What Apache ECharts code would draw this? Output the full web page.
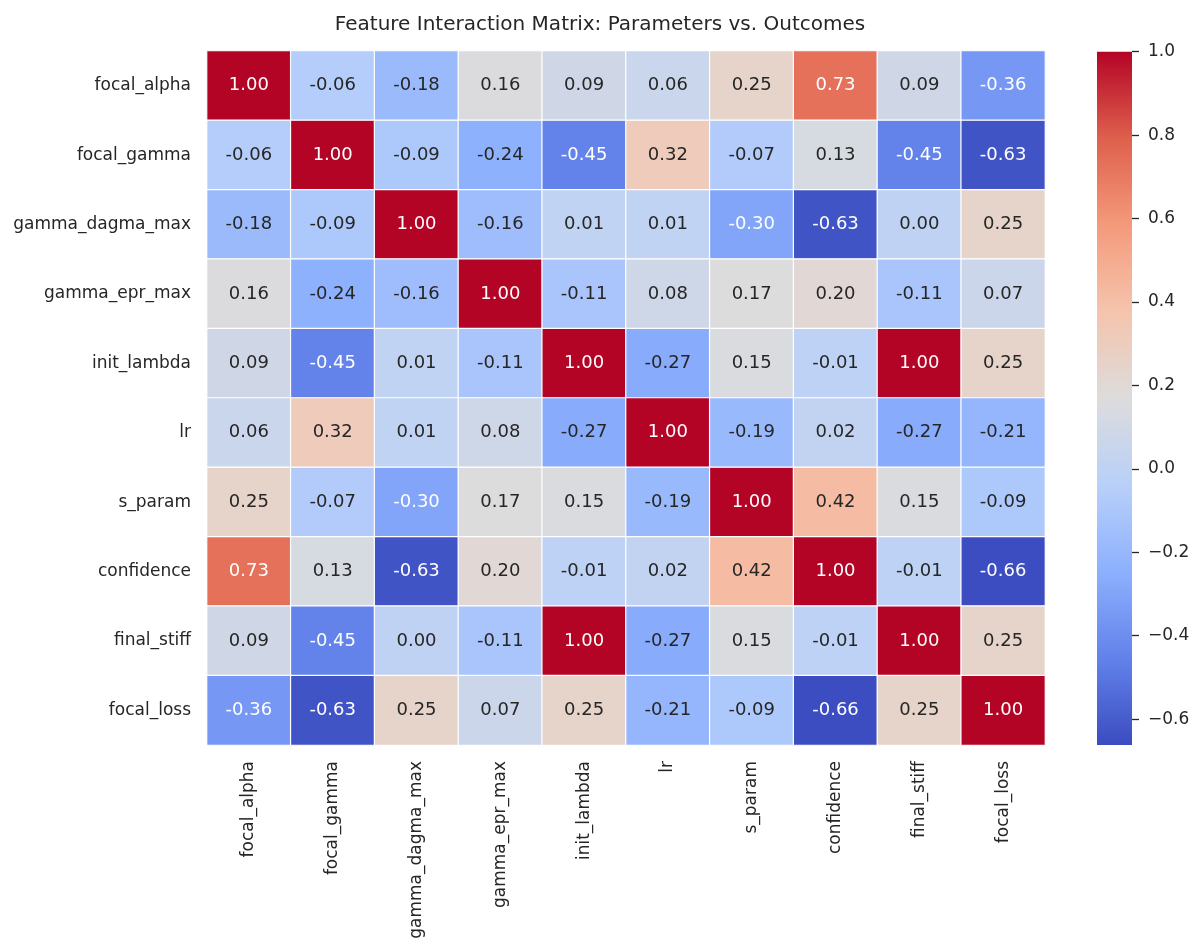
<!DOCTYPE html>
<html>
<head>
<meta charset="utf-8">
<script src="https://cdn.jsdelivr.net/npm/echarts@6/dist/echarts.min.js"></script>
<style>html,body{margin:0;padding:0;background:#fff;}#chart{width:1200px;height:952px;}</style>
</head>
<body>
<div id="chart"></div>
<script>
const features = ['focal_alpha','focal_gamma','gamma_dagma_max','gamma_epr_max','init_lambda','lr','s_param','confidence','final_stiff','focal_loss'];
const row_focal_alpha     = [1.00,-0.06,-0.18, 0.16, 0.09, 0.06, 0.25, 0.73, 0.09,-0.36];
const row_focal_gamma     = [-0.06,1.00,-0.09,-0.24,-0.45, 0.32,-0.07, 0.13,-0.45,-0.63];
const row_gamma_dagma_max = [-0.18,-0.09,1.00,-0.16, 0.01, 0.01,-0.30,-0.63, 0.00, 0.25];
const row_gamma_epr_max   = [0.16,-0.24,-0.16, 1.00,-0.11, 0.08, 0.17, 0.20,-0.11, 0.07];
const row_init_lambda     = [0.09,-0.45, 0.01,-0.11, 1.00,-0.27, 0.15,-0.01, 1.00, 0.25];
const row_lr              = [0.06, 0.32, 0.01, 0.08,-0.27, 1.00,-0.19, 0.02,-0.27,-0.21];
const row_s_param         = [0.25,-0.07,-0.30, 0.17, 0.15,-0.19, 1.00, 0.42, 0.15,-0.09];
const row_confidence      = [0.73, 0.13,-0.63, 0.20,-0.01, 0.02, 0.42, 1.00,-0.01,-0.66];
const row_final_stiff     = [0.09,-0.45, 0.00,-0.11, 1.00,-0.27, 0.15,-0.01, 1.00, 0.25];
const row_focal_loss      = [-0.36,-0.63, 0.25, 0.07, 0.25,-0.21,-0.09,-0.66, 0.25, 1.00];
const rows = [row_focal_alpha,row_focal_gamma,row_gamma_dagma_max,row_gamma_epr_max,row_init_lambda,row_lr,row_s_param,row_confidence,row_final_stiff,row_focal_loss];
const colorbarTicks = [-0.6,-0.4,-0.2,0.0,0.2,0.4,0.6,0.8,1.0];
const vMin = -0.662, vMax = 1.0;

const coolwarm = ['#3b4cc0','#6282ea','#8db0fe','#b8d0f9','#dddcdc','#f5c4ad','#f49a7b','#de604d','#b40426'];
function hex2rgb(h){return [parseInt(h.slice(1,3),16)/255,parseInt(h.slice(3,5),16)/255,parseInt(h.slice(5,7),16)/255];}
function cmap(v){
  let t=(v-vMin)/(vMax-vMin); t=Math.max(0,Math.min(1,t));
  const p=t*(coolwarm.length-1); const i=Math.min(Math.floor(p),coolwarm.length-2); const f=p-i;
  const a=hex2rgb(coolwarm[i]), b=hex2rgb(coolwarm[i+1]);
  return a.map((x,k)=>x+(b[k]-x)*f);
}
function lum(rgb){
  const l=rgb.map(c=>c<=0.03928?c/12.92:Math.pow((c+0.055)/1.055,2.4));
  return 0.2126*l[0]+0.7152*l[1]+0.0722*l[2];
}
const data=[];
rows.forEach((r,i)=>r.forEach((v,j)=>{
  data.push({value:[j,i,v],label:{color: lum(cmap(v))<0.408?'#ffffff':'#262626'}});
}));

const FONT='DejaVu Sans';
const gradient=new echarts.graphic.LinearGradient(0,1,0,0,
  coolwarm.map((c,i)=>({offset:i/(coolwarm.length-1),color:c})));
const chart=echarts.init(document.getElementById('chart'));
chart.setOption({
  backgroundColor:'#ffffff',
  animation:false,
  title:{text:'Feature Interaction Matrix: Parameters vs. Outcomes',left:'center',top:10,
    textStyle:{fontFamily:FONT,fontSize:20,fontWeight:'normal',color:'#262626'}},
  grid:[
    {left:207,right:155,top:51,bottom:207},
    {left:1097,width:35,top:51.7,bottom:207,show:true,backgroundColor:gradient,borderWidth:0}
  ],
  xAxis:[
    {type:'category',data:features,gridIndex:0,axisLine:{show:false},axisTick:{show:false},splitLine:{show:false},
     axisLabel:{rotate:90,interval:0,margin:16,fontFamily:FONT,fontSize:17,color:'#262626'}},
    {type:'value',gridIndex:1,show:false,min:0,max:1}
  ],
  yAxis:[
    {type:'category',data:features,inverse:true,gridIndex:0,axisLine:{show:false},axisTick:{show:false},splitLine:{show:false},
     axisLabel:{interval:0,margin:16,fontFamily:FONT,fontSize:17,color:'#262626'}},
    {type:'value',gridIndex:1,position:'right',min:vMin,max:vMax,
     axisLine:{show:true,onZero:false,lineStyle:{color:'rgba(0,0,0,0)'}},splitLine:{show:false},
     axisTick:{show:true,length:7,inside:false,customValues:colorbarTicks,lineStyle:{color:'#262626',width:1.3}},
     axisLabel:{show:true,customValues:colorbarTicks,margin:16,fontFamily:FONT,fontSize:17,color:'#262626',
       formatter:v=>(v<0?'\u2212':'')+Math.abs(v).toFixed(1)}}
  ],
  visualMap:{type:'continuous',show:false,min:vMin,max:vMax,seriesIndex:0,dimension:2,
    inRange:{color:coolwarm}},
  series:[{
    type:'heatmap',xAxisIndex:0,yAxisIndex:0,data:data,
    itemStyle:{borderColor:'#ffffff',borderWidth:1.2},
    label:{show:true,fontFamily:FONT,fontSize:18,formatter:p=>p.value[2].toFixed(2)},
    emphasis:{disabled:true}
  }]
});
</script>
</body>
</html>
